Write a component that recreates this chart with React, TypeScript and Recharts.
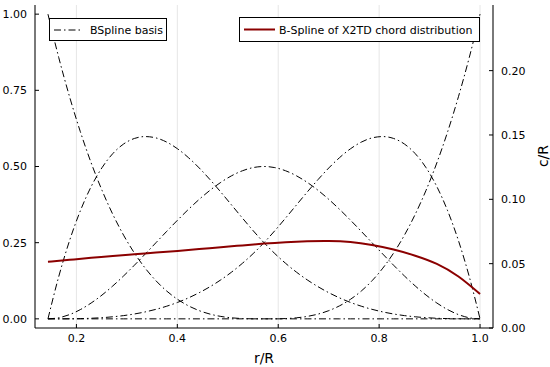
import { ComposedChart, Line, XAxis, YAxis, CartesianGrid } from "recharts"

// r/R sample positions shared by the basis curves
const rGrid = [
  0.1436, 0.165, 0.1864, 0.2078, 0.2292, 0.2507, 0.2721, 0.2935, 0.3149, 0.3363, 0.3577,
  0.3791, 0.4005, 0.4219, 0.4433, 0.4648, 0.4862, 0.5076, 0.529, 0.5504, 0.5718,
  0.5932, 0.6146, 0.636, 0.6574, 0.6789, 0.7003, 0.7217, 0.7431, 0.7645, 0.7859,
  0.8073, 0.8287, 0.8501, 0.8715, 0.893, 0.9144, 0.9358, 0.9572, 0.9786, 1.0,
]

const basis1 = [
  1, 0.8574, 0.729, 0.6141, 0.512, 0.4219, 0.343, 0.2746, 0.216, 0.1664, 0.125,
  0.0911, 0.064, 0.0429, 0.027, 0.0156, 0.008, 0.0034, 0.001, 0.0001, 0,
  0, 0, 0, 0, 0, 0, 0, 0, 0, 0, 0, 0, 0, 0, 0, 0, 0, 0, 0, 0,
]
const basis2 = [
  0, 0.139, 0.2568, 0.3547, 0.434, 0.4961, 0.5423, 0.5738, 0.592, 0.5982, 0.5938,
  0.5799, 0.558, 0.5293, 0.4953, 0.457, 0.416, 0.3735, 0.3308, 0.2892, 0.25,
  0.2143, 0.1823, 0.1535, 0.128, 0.1055, 0.0858, 0.0687, 0.054, 0.0416, 0.0313,
  0.0228, 0.016, 0.0107, 0.0068, 0.0039, 0.002, 0.0008, 0.0003, 0, 0,
]
const basis3 = [
  0, 0.0036, 0.014, 0.0304, 0.052, 0.0781, 0.108, 0.1409, 0.176, 0.2126, 0.25,
  0.2874, 0.324, 0.3591, 0.392, 0.4219, 0.448, 0.4696, 0.486, 0.4964, 0.5,
  0.4964, 0.486, 0.4696, 0.448, 0.4219, 0.392, 0.3591, 0.324, 0.2874, 0.25,
  0.2126, 0.176, 0.1409, 0.108, 0.0781, 0.052, 0.0304, 0.014, 0.0036, 0,
]
const basis4 = [
  0, 0, 0.0003, 0.0008, 0.002, 0.0039, 0.0068, 0.0107, 0.016, 0.0228, 0.0313,
  0.0416, 0.054, 0.0687, 0.0858, 0.1055, 0.128, 0.1535, 0.1823, 0.2143, 0.25,
  0.2892, 0.3308, 0.3735, 0.416, 0.457, 0.4953, 0.5293, 0.558, 0.5799, 0.5938,
  0.5982, 0.592, 0.5738, 0.5423, 0.4961, 0.434, 0.3547, 0.2568, 0.139, 0,
]
const basis5 = [
  0, 0, 0, 0, 0, 0, 0, 0, 0, 0, 0, 0, 0, 0, 0, 0, 0, 0, 0, 0, 0,
  0.0001, 0.001, 0.0034, 0.008, 0.0156, 0.027, 0.0429, 0.064, 0.0911, 0.125,
  0.1664, 0.216, 0.2746, 0.343, 0.4219, 0.512, 0.6141, 0.729, 0.8574, 1,
]

// chord distribution (right axis)
const chordR = [
  0.1436, 0.1864, 0.2292, 0.2721, 0.3149, 0.3577, 0.4005, 0.4433, 0.4862, 0.529, 0.5718,
  0.6146, 0.6574, 0.7003, 0.7431, 0.7859, 0.8287, 0.8715, 0.9144, 0.9572, 1.0,
]
const chordC = [
  0.0515, 0.053, 0.0545, 0.0559, 0.0573, 0.0587, 0.0599, 0.0613, 0.0628, 0.0642, 0.0656,
  0.0667, 0.0674, 0.0676, 0.0668, 0.0645, 0.061, 0.0562, 0.0498, 0.04, 0.0264,
]

const xTicks = [0.2, 0.4, 0.6, 0.8, 1.0]
const leftTicks = [0, 0.25, 0.5, 0.75, 1]
const rightTicks = [0, 0.05, 0.1, 0.15, 0.2]

const basisSeries = [basis1, basis2, basis3, basis4, basis5].map((b) =>
  rGrid.map((r, i) => ({ r, y: b[i] }))
)
const chordData = chordR.map((r, i) => ({ r, c: chordC[i] }))

const font = "DejaVu Sans, sans-serif"
const xDomain = [0.1179, 1.0257]

function LeftTick(props: any) {
  const { x, y, payload } = props
  return (
    <g>
      <line x1={x + 8} x2={x + 12} y1={y} y2={y} stroke="#000" />
      <text x={x} y={y} dy="0.36em" textAnchor="end" fontSize={11} fontFamily={font} fill="#000">
        {payload.value.toFixed(2)}
      </text>
    </g>
  )
}

function RightTick(props: any) {
  const { x, y, payload } = props
  return (
    <g>
      <line x1={x - 8} x2={x - 12} y1={y} y2={y} stroke="#000" />
      <text x={x} y={y} dy="0.36em" textAnchor="start" fontSize={11} fontFamily={font} fill="#000">
        {payload.value.toFixed(2)}
      </text>
    </g>
  )
}

function BottomTick(props: any) {
  const { x, y, payload } = props
  return (
    <g>
      <line x1={x} x2={x} y1={y - 6} y2={y - 10} stroke="#000" />
      <text x={x} y={y} dy="0.71em" textAnchor="middle" fontSize={11} fontFamily={font} fill="#000">
        {payload.value.toFixed(1)}
      </text>
    </g>
  )
}

export default function App() {
  return (
    <div style={{ position: "absolute", left: 0, top: 0, width: 550, height: 367 }}>
      <ComposedChart width={550} height={367} margin={{ top: 5, right: 0, bottom: 0, left: 0 }}>
        <CartesianGrid horizontal={false} yAxisId="left" stroke="#000" strokeOpacity={0.1} />
        <XAxis
          dataKey="r"
          type="number"
          domain={xDomain}
          ticks={xTicks}
          allowDataOverflow
          height={39}
          tickLine={false}
          tickMargin={0}
          tick={BottomTick}
          axisLine={{ stroke: "#000" }}
        />
        <XAxis
          xAxisId="top"
          orientation="top"
          type="number"
          domain={xDomain}
          height={0}
          tick={false}
          tickLine={false}
          axisLine={{ stroke: "#000" }}
        />
        <YAxis
          yAxisId="left"
          type="number"
          domain={[-0.03, 1.03]}
          ticks={leftTicks}
          allowDataOverflow
          width={35}
          tickLine={false}
          tick={LeftTick}
          axisLine={{ stroke: "#000" }}
        />
        <YAxis
          yAxisId="right"
          orientation="right"
          type="number"
          domain={[0, 0.251]}
          ticks={rightTicks}
          allowDataOverflow
          width={57}
          tickLine={false}
          tick={RightTick}
          axisLine={{ stroke: "#000" }}
        />
        {basisSeries.map((d, k) => (
          <Line
            key={k}
            data={d}
            dataKey="y"
            yAxisId="left"
            type="monotone"
            stroke="#000"
            strokeWidth={1}
            strokeDasharray="7 3 1.5 3"
            dot={false}
            isAnimationActive={false}
          />
        ))}
        <Line
          data={chordData}
          dataKey="c"
          yAxisId="right"
          type="natural"
          stroke="#8B0000"
          strokeWidth={2}
          dot={false}
          isAnimationActive={false}
        />
      </ComposedChart>
      <svg
        width={550}
        height={367}
        style={{ position: "absolute", left: 0, top: 0, pointerEvents: "none" }}
        fontFamily={font}
      >
        <rect x={49.5} y={18.5} width={117} height={22} fill="#fff" stroke="#000" />
        <line x1={54} x2={82} y1={30} y2={30} stroke="#000" strokeDasharray="7 3 1.5 3" />
        <text x={90} y={34} fontSize={11} fill="#000">BSpline basis</text>
        <rect x={239.5} y={17.5} width={240} height={24} fill="#fff" stroke="#000" />
        <line x1={244} x2={275} y1={29.5} y2={29.5} stroke="#8B0000" strokeWidth={2} />
        <text x={279} y={33.5} fontSize={11} fill="#000">B-Spline of X2TD chord distribution</text>
        <text x={264} y={363} fontSize={14} textAnchor="middle" fill="#000">r/R</text>
        <text x={548} y={156} fontSize={14} textAnchor="middle" fill="#000" transform="rotate(-90 548 156)">c/R</text>
      </svg>
    </div>
  )
}
